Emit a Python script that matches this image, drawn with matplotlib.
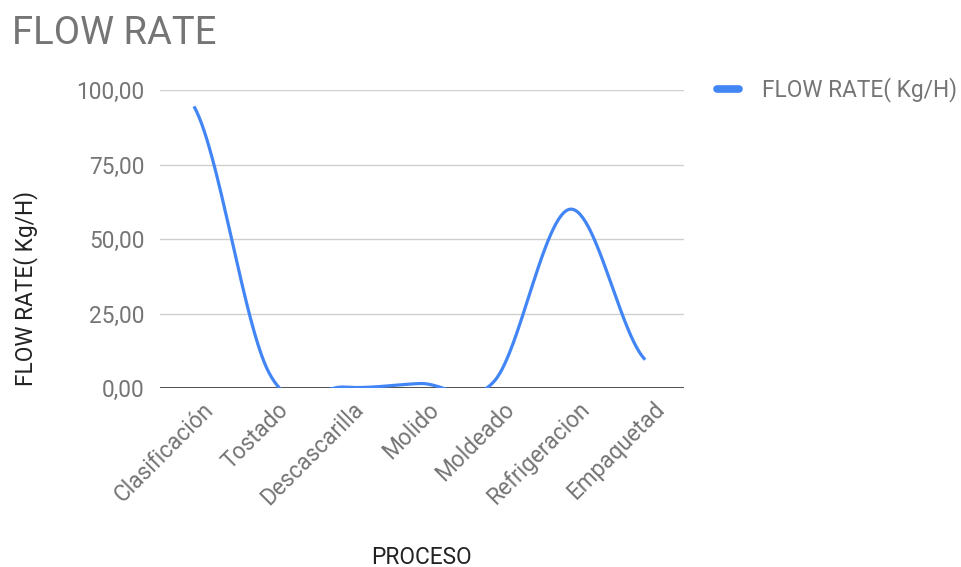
import numpy as np
import matplotlib
matplotlib.use("Agg")
import matplotlib.pyplot as plt
from matplotlib.transforms import ScaledTranslation
from matplotlib.lines import Line2D

plt.rcParams['font.family'] = ['Roboto', 'DejaVu Sans']

procesos = ["Clasificación", "Tostado", "Descascarilla", "Molido",
            "Moldeado", "Refrigeracion", "Empaquetad"]
flow_rate = [94.5, 5.0, 0.3, 1.5, 2.5, 60.0, 9.5]
y_ticks = [0, 25, 50, 75, 100]
y_tick_labels = ["0,00", "25,00", "50,00", "75,00", "100,00"]

LINE = "#4285F4"
GRAY = "#757575"
DARK = "#222222"
FS = 16.3


def smooth_curve(values, steps=60):
    """Piecewise cubic Bezier through each point (Catmull-Rom tangents)."""
    v = np.asarray(values, dtype=float)
    n = len(v)
    tang = np.empty(n)
    for i in range(n):
        a = v[max(i - 1, 0)]
        b = v[min(i + 1, n - 1)]
        tang[i] = (b - a) / 2.0
    xs, ys = [], []
    for i in range(n - 1):
        p0, p3 = v[i], v[i + 1]
        p1 = p0 + tang[i] / 3.0
        p2 = p3 - tang[i + 1] / 3.0
        t = np.linspace(0, 1, steps, endpoint=(i == n - 2))
        y = ((1 - t) ** 3 * p0 + 3 * (1 - t) ** 2 * t * p1
             + 3 * (1 - t) * t ** 2 * p2 + t ** 3 * p3)
        xs.append(i + t)
        ys.append(y)
    return np.concatenate(xs), np.concatenate(ys)


fig = plt.figure(figsize=(9.61, 5.67), dpi=100)
ax = fig.add_axes([160 / 961, 1 - 388 / 567, (684 - 160) / 961, (388 - 90) / 567])

x = np.arange(len(procesos))
cx, cy = smooth_curve(flow_rate)
ax.plot(cx, cy, color=LINE, lw=2.3, solid_capstyle='butt', zorder=3)

ax.set_xlim(-0.452, 6.516)
ax.set_ylim(0, 100)

ax.set_yticks(y_ticks)
ax.set_yticklabels(y_tick_labels)
ax.yaxis.grid(True, color="#d0d0d0", lw=1.0)
ax.set_axisbelow(True)
ax.axhline(0, color="#333333", lw=1.2, zorder=2)

for s in ax.spines.values():
    s.set_visible(False)

ax.tick_params(axis='y', length=0, pad=11, labelsize=FS, labelcolor=GRAY)
ax.tick_params(axis='x', length=0, pad=13, labelsize=FS, labelcolor=GRAY)

ax.set_xticks(x)
ax.set_xticklabels(procesos, rotation=45, ha='right', va='center',
                   rotation_mode='anchor')
shift = ScaledTranslation(16 / 100, 0, fig.dpi_scale_trans)
for lab in ax.get_xticklabels():
    lab.set_transform(lab.get_transform() + shift)

fig.text(12 / 961, 1 - 34 / 567, "FLOW RATE", fontsize=27.5, color=GRAY,
         ha='left', va='center')
fig.text(26 / 961, 1 - 288 / 567, "FLOW RATE( Kg/H)", fontsize=FS,
         color=DARK, rotation=90, ha='center', va='center')
fig.text(421 / 961, 1 - 557 / 567, "PROCESO", fontsize=FS, color=DARK,
         ha='center', va='center')

handle = Line2D([], [], color=LINE, lw=5.5, solid_capstyle='round')
fig.legend([handle], ["FLOW RATE( Kg/H)"], loc='center left',
           bbox_to_anchor=(717 / 961, 1 - 90 / 567), frameon=False,
           fontsize=FS, labelcolor=GRAY, handlelength=0.95,
           handletextpad=1.05, borderpad=0, borderaxespad=0)

fig.savefig("out.png", dpi=100, facecolor="white")
